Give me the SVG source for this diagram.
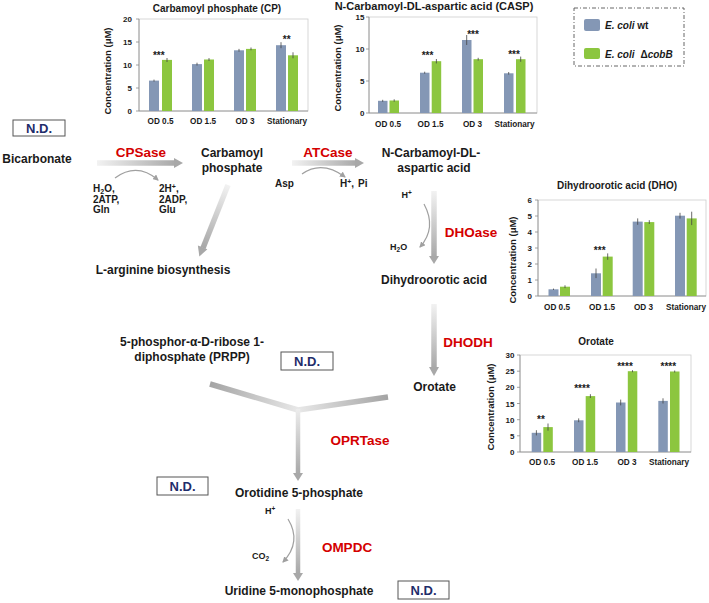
<svg xmlns="http://www.w3.org/2000/svg" width="709" height="603" viewBox="0 0 709 603">
<style>
text{font-family:"Liberation Sans",Arial,sans-serif;font-weight:bold;fill:#1a1a1a}
.node{font-size:12px;text-anchor:middle}
.enz{font-size:13.5px;fill:#d40000;text-anchor:middle}
.sm{font-size:10px}
.xs{font-size:9px}
.nd rect{fill:#fff;stroke:#555;stroke-width:1}
.nd text{font-size:13px;fill:#1f2d6b;text-anchor:middle}
.ct{font-size:10px;text-anchor:middle}
.cat{font-size:8.2px;text-anchor:middle}
.tick{font-size:8px;text-anchor:end}
.yt{font-size:9.5px;text-anchor:middle}
.star{font-size:10px;text-anchor:middle}
.b{fill:#8497b5}
.g{fill:#8cc63f}
.err{stroke:#444;stroke-width:0.8}
.plot{fill:#fff;stroke:#cdcdcd;stroke-width:0.8}
.ax{stroke:#8a8a8a;stroke-width:0.8;fill:none}
.arc{fill:none;stroke:#a0a0a0;stroke-width:1.2;marker-end:url(#ah)}
.shaft{fill:none;stroke-width:5.5}
.head{fill:#a8a8a8}
</style>
<defs>
<marker id="ah" viewBox="0 0 6 6" refX="5" refY="3" markerWidth="6" markerHeight="6" markerUnits="userSpaceOnUse" orient="auto"><path d="M0,0 L6,3 L0,6 z" fill="#a0a0a0"/></marker>
<linearGradient id="g1" gradientUnits="userSpaceOnUse" x1="97" y1="163" x2="176" y2="163"><stop offset="0" stop-color="#f2f2f2"/><stop offset="1" stop-color="#a8a8a8"/></linearGradient>
<linearGradient id="g2" gradientUnits="userSpaceOnUse" x1="292" y1="163" x2="357" y2="163"><stop offset="0" stop-color="#f2f2f2"/><stop offset="1" stop-color="#a8a8a8"/></linearGradient>
<linearGradient id="g3" gradientUnits="userSpaceOnUse" x1="434" y1="191" x2="434" y2="257"><stop offset="0" stop-color="#f2f2f2"/><stop offset="1" stop-color="#a8a8a8"/></linearGradient>
<linearGradient id="g4" gradientUnits="userSpaceOnUse" x1="434" y1="304" x2="434" y2="368"><stop offset="0" stop-color="#f2f2f2"/><stop offset="1" stop-color="#a8a8a8"/></linearGradient>
<linearGradient id="g5" gradientUnits="userSpaceOnUse" x1="228" y1="185" x2="203" y2="247"><stop offset="0" stop-color="#f2f2f2"/><stop offset="1" stop-color="#a8a8a8"/></linearGradient>
<linearGradient id="g6" gradientUnits="userSpaceOnUse" x1="210" y1="384" x2="298" y2="410"><stop offset="0" stop-color="#a4a4a4"/><stop offset="1" stop-color="#e8e8e8"/></linearGradient>
<linearGradient id="g7" gradientUnits="userSpaceOnUse" x1="388" y1="397" x2="298" y2="410"><stop offset="0" stop-color="#a4a4a4"/><stop offset="1" stop-color="#e8e8e8"/></linearGradient>
<linearGradient id="g8" gradientUnits="userSpaceOnUse" x1="298" y1="410" x2="298" y2="474"><stop offset="0" stop-color="#ececec"/><stop offset="1" stop-color="#a8a8a8"/></linearGradient>
<linearGradient id="g9" gradientUnits="userSpaceOnUse" x1="298" y1="509" x2="298" y2="573"><stop offset="0" stop-color="#f2f2f2"/><stop offset="1" stop-color="#a8a8a8"/></linearGradient>
</defs>
<rect width="709" height="603" fill="#fff"/>

<!-- Chart CP -->
<g id="chart-cp">
<text class="ct" x="217" y="12">Carbamoyl phosphate (CP)</text>
<rect class="plot" x="139" y="19" width="169" height="92"/>
<path class="ax" d="M139,19 V111 H308 M136,111 H139 M136,88 H139 M136,65 H139 M136,42 H139 M136,19 H139"/>
<text class="tick" x="132" y="114">0</text><text class="tick" x="132" y="91">5</text><text class="tick" x="132" y="68">10</text><text class="tick" x="132" y="45">15</text><text class="tick" x="132" y="22">20</text>
<text class="yt" transform="translate(110.5,71) rotate(-90)">Concentration (μM)</text>
<rect class="b" x="149" y="80.6" width="10" height="30.4"/><rect class="g" x="162" y="59.9" width="10" height="51.1"/>
<rect class="b" x="192" y="64.1" width="10" height="46.9"/><rect class="g" x="204" y="59.5" width="10" height="51.5"/>
<rect class="b" x="234" y="50.3" width="10" height="60.7"/><rect class="g" x="246" y="48.9" width="10" height="62.1"/>
<rect class="b" x="276" y="45.2" width="10" height="65.8"/><rect class="g" x="288" y="55.3" width="10" height="55.7"/>
<path class="err" d="M154,79.6 V81.6 M167,58 V62 M197,62.7 V65.5 M209,58.1 V60.9 M239,48.9 V51.7 M251,47.5 V50.3 M281,42.2 V48.2 M293,52.3 V58.3"/>
<text class="star" x="158.8" y="59">***</text><text class="star" x="286.7" y="43.4">**</text>
<text class="cat" x="160.5" y="124">OD 0.5</text><text class="cat" x="203" y="124">OD 1.5</text><text class="cat" x="245" y="124">OD 3</text><text class="cat" x="287" y="124">Stationary</text>
</g>

<!-- Chart CASP -->
<g id="chart-casp">
<text class="ct" x="434" y="10" style="font-size:11px">N-Carbamoyl-DL-aspartic acid (CASP)</text>
<rect class="plot" x="369" y="17" width="168" height="96"/>
<path class="ax" d="M369,17 V113 H537 M366,113 H369 M366,81 H369 M366,49 H369 M366,17 H369"/>
<text class="tick" x="364.5" y="116">0</text><text class="tick" x="364.5" y="84">5</text><text class="tick" x="364.5" y="52">10</text><text class="tick" x="364.5" y="20">15</text>
<text class="yt" transform="translate(340.5,68) rotate(-90)">Concentration (μM)</text>
<rect class="b" x="378" y="100.8" width="9.5" height="12.2"/><rect class="g" x="389.5" y="100.5" width="9.5" height="12.5"/>
<rect class="b" x="420" y="72.7" width="9.5" height="40.3"/><rect class="g" x="431.7" y="61.2" width="9.5" height="51.8"/>
<rect class="b" x="462" y="40" width="9.5" height="73"/><rect class="g" x="473.5" y="59.2" width="9.5" height="53.8"/>
<rect class="b" x="504" y="73.3" width="9.5" height="39.7"/><rect class="g" x="516" y="59.2" width="9.5" height="53.8"/>
<path class="err" d="M382.7,99.8 V101.8 M394.2,99.3 V101.7 M424.7,71.7 V73.7 M436.4,59 V63.4 M466.7,35 V45 M478.2,57.8 V60.6 M508.7,72 V74.6 M520.7,56.6 V61.8"/>
<text class="star" x="427.5" y="59">***</text><text class="star" x="473" y="38">***</text><text class="star" x="514" y="58.4">***</text>
<text class="cat" x="388" y="126.5">OD 0.5</text><text class="cat" x="430.5" y="126.5">OD 1.5</text><text class="cat" x="472.5" y="126.5">OD 3</text><text class="cat" x="514.5" y="126.5">Stationary</text>
</g>

<!-- Legend -->
<g id="legend">
<rect x="574" y="8" width="110" height="58" fill="none" stroke="#555" stroke-width="0.9" stroke-dasharray="4,2,1,2"/>
<rect class="b" x="584" y="19" width="16" height="12" rx="2"/>
<text class="sm" x="605" y="29"><tspan font-style="italic">E. coli</tspan> wt</text>
<rect class="g" x="584" y="48" width="16" height="11" rx="2"/>
<text class="sm" x="605" y="57.5"><tspan font-style="italic">E. coli</tspan><tspan dx="6">Δ</tspan><tspan font-style="italic">cobB</tspan></text>
</g>

<!-- Chart DHO -->
<g id="chart-dho">
<text class="ct" x="617" y="189">Dihydroorotic acid (DHO)</text>
<rect class="plot" x="538" y="200" width="168" height="96"/>
<path class="ax" d="M538,200 V296 H706 M535,296 H538 M535,280 H538 M535,264 H538 M535,248 H538 M535,232 H538 M535,216 H538 M535,200 H538"/>
<text class="tick" x="532" y="299">0</text><text class="tick" x="532" y="283">1</text><text class="tick" x="532" y="267">2</text><text class="tick" x="532" y="251">3</text><text class="tick" x="532" y="235">4</text><text class="tick" x="532" y="219">5</text><text class="tick" x="532" y="203">6</text>
<text class="yt" transform="translate(515.5,260) rotate(-90)">Concentration (μM)</text>
<rect class="b" x="548.5" y="289.3" width="10" height="6.7"/><rect class="g" x="560" y="286.7" width="10" height="9.3"/>
<rect class="b" x="591" y="273.3" width="10" height="22.7"/><rect class="g" x="602.7" y="256.6" width="10" height="39.4"/>
<rect class="b" x="632.7" y="221.6" width="10" height="74.4"/><rect class="g" x="644.3" y="222.1" width="10" height="73.9"/>
<rect class="b" x="675" y="215.7" width="10" height="80.3"/><rect class="g" x="686.7" y="218.4" width="10" height="77.6"/>
<path class="err" d="M553.5,288.6 V290 M565,285.3 V288.1 M596,268.5 V278.1 M607.7,253.4 V259.8 M637.7,218.4 V224.8 M649.3,220.2 V224 M680,212.8 V218.6 M691.7,211.7 V225.1"/>
<text class="star" x="599.7" y="254">***</text>
<text class="cat" x="557" y="310">OD 0.5</text><text class="cat" x="602" y="310">OD 1.5</text><text class="cat" x="643.5" y="310">OD 3</text><text class="cat" x="686" y="310">Stationary</text>
</g>

<!-- Chart Orotate -->
<g id="chart-orotate">
<text class="ct" x="596" y="345">Orotate</text>
<rect class="plot" x="520" y="355" width="171" height="97"/>
<path class="ax" d="M520,355 V452 H691 M517,452 H520 M517,435.8 H520 M517,419.7 H520 M517,403.5 H520 M517,387.3 H520 M517,371.2 H520 M517,355 H520"/>
<text class="tick" x="514.5" y="455">0</text><text class="tick" x="514.5" y="438.8">5</text><text class="tick" x="514.5" y="422.7">10</text><text class="tick" x="514.5" y="406.5">15</text><text class="tick" x="514.5" y="390.3">20</text><text class="tick" x="514.5" y="374.2">25</text><text class="tick" x="514.5" y="358">30</text>
<text class="yt" transform="translate(493.5,407) rotate(-90)">Concentration (μM)</text>
<rect class="b" x="531.7" y="432.8" width="9.5" height="19.2"/><rect class="g" x="543.3" y="427.1" width="9.5" height="24.9"/>
<rect class="b" x="574" y="420.3" width="9.5" height="31.7"/><rect class="g" x="585.7" y="396.1" width="9.5" height="55.9"/>
<rect class="b" x="616" y="402.5" width="9.5" height="49.5"/><rect class="g" x="627.8" y="371.2" width="9.5" height="80.8"/>
<rect class="b" x="658.3" y="400.9" width="9.5" height="51.1"/><rect class="g" x="670" y="371.5" width="9.5" height="80.5"/>
<path class="err" d="M536.4,430.2 V435.4 M548,423.5 V430.7 M578.7,418.4 V422.2 M590.4,394.2 V398 M620.7,399.6 V405.4 M632.5,370.2 V372.2 M663,398.3 V403.5 M674.7,370.5 V372.5"/>
<text class="star" x="541" y="422.7">**</text><text class="star" x="582" y="392.4">****</text><text class="star" x="625" y="370">****</text><text class="star" x="668.3" y="370">****</text>
<text class="cat" x="542" y="465">OD 0.5</text><text class="cat" x="585" y="465">OD 1.5</text><text class="cat" x="627" y="465">OD 3</text><text class="cat" x="669" y="465">Stationary</text>
</g>

<!-- Connectors -->
<g id="connectors">
<line class="shaft" x1="97" y1="163" x2="175" y2="163" stroke="url(#g1)"/>
<polygon class="head" points="174,158 183,163 174,168"/>
<path class="arc" d="M115,178 Q137,162 158,180"/>
<line class="shaft" x1="292" y1="163" x2="356" y2="163" stroke="url(#g2)"/>
<polygon class="head" points="355,158 364,163 355,168"/>
<path class="arc" d="M302,174 Q322,160 345,177"/>
<line class="shaft" x1="228" y1="185" x2="203" y2="248" stroke="url(#g5)"/>
<polygon class="head" points="207.4,249.3 199.3,256.5 197.9,245.6"/>
<line class="shaft" x1="434" y1="191" x2="434" y2="257" stroke="url(#g3)"/>
<polygon class="head" points="429,256 434,264 439,256"/>
<path class="arc" d="M424,204 Q437,228 420,247"/>
<line class="shaft" x1="434" y1="304" x2="434" y2="368" stroke="url(#g4)"/>
<polygon class="head" points="429,367 434,376 439,367"/>
<line class="shaft" x1="210" y1="384" x2="298" y2="410" stroke="url(#g6)"/>
<line class="shaft" x1="388" y1="397" x2="298" y2="410" stroke="url(#g7)"/>
<line x1="298" y1="409" x2="298" y2="474" stroke="url(#g8)" stroke-width="4.5"/>
<polygon class="head" points="293,473 298,481 303,473"/>
<line x1="298" y1="509" x2="298" y2="574" stroke="url(#g9)" stroke-width="4.5"/>
<polygon class="head" points="293,573 298,581 303,573"/>
<path class="arc" d="M288,519 Q302,542 283,562"/>
</g>

<!-- Nodes -->
<g id="nd-bicarbonate" class="nd"><rect x="13" y="120" width="52" height="16"/><text x="39" y="132.5">N.D.</text></g>
<g id="bicarbonate"><text class="node" x="37" y="163">Bicarbonate</text></g>
<g id="cpsase"><text class="enz" x="141" y="157">CPSase</text></g>
<g id="cpsase-in"><text class="sm" x="93" y="192">H<tspan dy="2" font-size="7">2</tspan><tspan dy="-2">O,</tspan></text><text class="sm" x="93" y="202.5">2ATP,</text><text class="sm" x="93" y="213">Gln</text></g>
<g id="cpsase-out"><text class="sm" x="159" y="192">2H<tspan dy="-3" font-size="7">+</tspan><tspan dy="3">,</tspan></text><text class="sm" x="159" y="202.5">2ADP,</text><text class="sm" x="159" y="213">Glu</text></g>
<g id="carbamoyl-phosphate"><text class="node" x="232" y="157">Carbamoyl</text><text class="node" x="232" y="172">phosphate</text></g>
<g id="atcase"><text class="enz" x="328" y="157">ATCase</text></g>
<g id="asp"><text class="sm" x="275" y="187">Asp</text></g>
<g id="atcase-out"><text class="sm" x="340" y="187">H<tspan dy="-3" font-size="7">+</tspan><tspan dy="3">,</tspan><tspan dx="4">Pi</tspan></text></g>
<g id="casp"><text class="node" x="431" y="157">N-Carbamoyl-DL-</text><text class="node" x="434" y="172">aspartic acid</text></g>
<g id="l-arginine"><text class="node" x="163" y="274">L-arginine biosynthesis</text></g>
<g id="dhoase"><text class="enz" x="471" y="237">DHOase</text></g>
<g id="dhoase-h"><text class="xs" x="401.5" y="198">H<tspan dy="-3" font-size="6.5">+</tspan></text></g>
<g id="dhoase-h2o"><text class="xs" x="390" y="250">H<tspan dy="2" font-size="6.5">2</tspan><tspan dy="-2">O</tspan></text></g>
<g id="dihydroorotic-acid"><text class="node" x="434" y="284">Dihydroorotic acid</text></g>
<g id="dhodh"><text class="enz" x="468" y="347">DHODH</text></g>
<g id="orotate"><text class="node" x="434.5" y="391">Orotate</text></g>
<g id="prpp"><text class="node" x="192" y="346">5-phosphor-α-D-ribose 1-</text><text class="node" x="192" y="361">diphosphate (PRPP)</text></g>
<g id="nd-prpp" class="nd"><rect x="281" y="352" width="52" height="18"/><text x="307" y="365.5">N.D.</text></g>
<g id="oprtase"><text class="enz" x="360" y="445">OPRTase</text></g>
<g id="nd-omp" class="nd"><rect x="157" y="477" width="51" height="18"/><text x="182.5" y="490.5">N.D.</text></g>
<g id="omp"><text class="node" x="299" y="497">Orotidine 5-phosphate</text></g>
<g id="ompdc-h"><text class="xs" x="265" y="514">H<tspan dy="-3" font-size="6.5">+</tspan></text></g>
<g id="ompdc"><text class="enz" x="347" y="552">OMPDC</text></g>
<g id="co2"><text class="xs" x="252" y="559">CO<tspan dy="2" font-size="6.5">2</tspan></text></g>
<g id="ump"><text class="node" x="299" y="595">Uridine 5-monophosphate</text></g>
<g id="nd-ump" class="nd"><rect x="398" y="581" width="51" height="18"/><text x="423.5" y="594.5">N.D.</text></g>
</svg>
